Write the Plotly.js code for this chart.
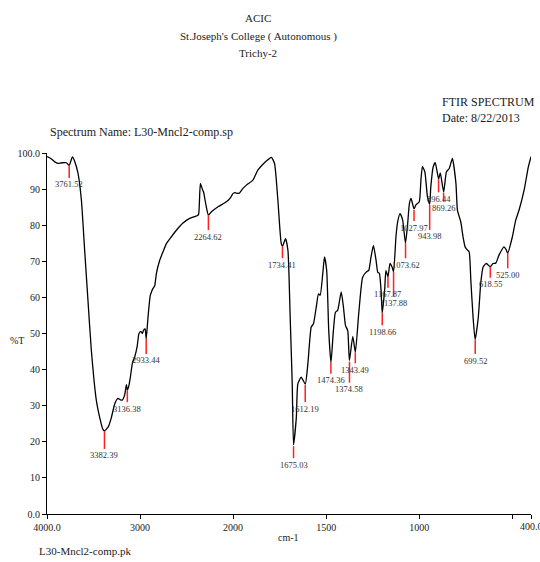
<!DOCTYPE html>
<html>
<head>
<meta charset="utf-8">
<script src="https://cdn.plot.ly/plotly-3.0.1.min.js"></script>
<style>
  html, body { margin: 0; padding: 0; background: #fff; }
  #chart { width: 540px; height: 562px; }
</style>
</head>
<body>
<div id="chart"></div>
<script>
// ---------- data ----------
// wavenumber (cm-1) and %T, high-wavenumber segment (4000 -> 2000)
const wnHigh = [4000, 3960, 3920, 3882, 3840, 3791, 3762, 3727, 3700, 3667, 3630, 3595, 3559, 3523, 3469, 3433, 3400, 3382, 3340, 3308, 3272, 3237, 3210, 3189, 3165, 3146, 3136, 3120, 3103, 3080, 3057, 3030, 3011, 2990, 2975, 2960, 2945, 2933, 2914, 2890, 2877, 2860, 2842, 2824, 2788, 2753, 2716, 2662, 2609, 2538, 2466, 2400, 2387, 2370, 2351, 2330, 2315, 2290, 2265, 2232, 2161, 2071, 2030, 2000];
const tHigh  = [99.0, 98.5, 97.6, 97.1, 97.3, 97.3, 96.5, 98.9, 97.5, 94.4, 86.9, 73.0, 59.0, 45.3, 31.4, 26.7, 23.5, 23.0, 24.2, 26.7, 30.5, 32.0, 31.6, 31.6, 33.0, 35.8, 34.3, 35.5, 38.0, 42.0, 43.5, 46.5, 50.0, 50.6, 50.0, 51.0, 51.3, 48.5, 54.5, 60.5, 61.5, 62.5, 63.2, 66.6, 70.3, 72.6, 74.9, 76.8, 78.6, 80.6, 81.9, 82.5, 82.6, 83.0, 91.6, 90.0, 89.0, 85.5, 82.8, 83.7, 85.1, 86.5, 87.5, 88.8];
// low-wavenumber segment (2000 -> 400)
const wnLow = [2000, 1991, 1968, 1950, 1928, 1893, 1866, 1839, 1813, 1794, 1777, 1759, 1741, 1734, 1718, 1705, 1693, 1682, 1675, 1660, 1652, 1634, 1612, 1598, 1580, 1568, 1553, 1541, 1532, 1518, 1509, 1497, 1486, 1474, 1461, 1450, 1438, 1419, 1407, 1396, 1384, 1375, 1357, 1343, 1325, 1304, 1285, 1271, 1259, 1246, 1232, 1223, 1214, 1205, 1199, 1186, 1179, 1168, 1157, 1146, 1138, 1125, 1116, 1103, 1089, 1074, 1062, 1053, 1044, 1028, 1018, 1000, 991, 983, 970, 956, 944, 938, 925, 914, 896, 887, 869, 854, 839, 822, 803, 795, 777, 765, 754, 741, 732, 723, 711, 700, 683, 670, 657, 640, 629, 619, 604, 589, 572, 545, 533, 525, 500, 482, 464, 437, 414, 400];
const tLow  = [88.8, 89.0, 88.8, 90.0, 91.1, 92.5, 95.3, 96.9, 98.1, 98.8, 97.1, 86.9, 74.9, 74.2, 76.3, 73.0, 54.5, 36.0, 19.2, 26.7, 36.0, 37.9, 36.0, 41.6, 51.8, 52.7, 57.3, 61.0, 60.6, 66.6, 71.2, 67.5, 50.8, 41.9, 50.8, 55.9, 56.4, 61.5, 57.3, 52.2, 50.8, 42.5, 49.2, 44.8, 55.5, 65.6, 67.0, 67.5, 71.2, 74.4, 70.3, 67.0, 66.6, 61.9, 55.6, 61.9, 67.5, 65.7, 69.4, 68.4, 67.1, 76.8, 80.9, 83.2, 81.4, 75.0, 80.5, 86.0, 87.4, 84.5, 85.6, 86.5, 92.5, 96.2, 94.8, 87.9, 85.8, 90.6, 96.2, 97.3, 92.8, 94.5, 89.2, 94.8, 95.7, 98.5, 91.6, 84.2, 80.9, 76.8, 74.0, 73.1, 72.6, 64.7, 54.5, 48.3, 54.5, 63.8, 68.4, 69.4, 68.9, 68.5, 69.4, 69.5, 71.7, 74.0, 73.2, 72.2, 76.8, 81.4, 84.2, 89.7, 96.2, 99.0];

// picked peaks
const peakLabels = ["3761.52", "3382.39", "3136.38", "2933.44", "2264.62", "1734.41", "1675.03", "1612.19", "1474.36", "1374.58", "1343.49", "1198.66", "1167.87", "1137.88", "1073.62", "1027.97", "943.98", "896.44", "869.26", "699.52", "618.55", "525.00"];
const peakWn = [3761.52, 3382.39, 3136.38, 2933.44, 2264.62, 1734.41, 1675.03, 1612.19, 1474.36, 1374.58, 1343.49, 1198.66, 1167.87, 1137.88, 1073.62, 1027.97, 943.98, 896.44, 869.26, 699.52, 618.55, 525.00];
const peakT  = [96.7, 23.0, 34.3, 48.5, 82.8, 74.2, 18.8, 35.7, 41.9, 42.2, 44.8, 55.6, 65.7, 67.1, 75.0, 84.2, 85.6, 92.7, 89.0, 48.2, 68.5, 72.2];

// axis ticks
const yTickVals = [0, 10, 20, 30, 40, 50, 60, 70, 80, 90, 100];
const yTickText = ["0.0", "10", "20", "30", "40", "50", "60", "70", "80", "90", "100.0"];
const xHighTickVals = [4000, 3000];
const xHighTickText = ["4000.0", "3000"];
const xLowTickVals = [2000, 1500, 1000, 500, 400];
const xLowTickText = ["2000", "1500", "1000", "", ""];
const xEndLabel = "400.0";

// ---------- layout helpers (positions, not data) ----------
const W = 540, H = 562;
const M = { l: 47, r: 9, t: 153, b: 48 };
const plotW = W - M.l - M.r, plotH = H - M.t - M.b;
const split = 186 / plotW;               // 4000-2000 occupies the left part (scale change at 2000)
const pxPerT = plotH / 100;
// red marker line length for each peak label (px), label sits just below
const markLen = [13, 18, 12, 15, 15, 12, 12, 17, 11, 21, 11, 12, 11, 25, 15, 11, 25, 13, 9, 14, 11, 15];

const serif = '"Liberation Serif", "Times New Roman", Times, serif';
const textCol = '#222';

function px2paperX(px) { return (px - M.l) / plotW; }
function px2paperY(py) { return (H - M.b - py) / plotH; }

const traces = [
  { x: wnHigh, y: tHigh, xaxis: 'x', yaxis: 'y', type: 'scatter', mode: 'lines',
    line: { color: '#000', width: 1.3, shape: 'spline', smoothing: 0.5 }, hoverinfo: 'skip' },
  { x: wnLow, y: tLow, xaxis: 'x2', yaxis: 'y', type: 'scatter', mode: 'lines',
    line: { color: '#000', width: 1.3, shape: 'spline', smoothing: 0.5 }, hoverinfo: 'skip' }
];

const shapes = [];
const annotations = [];
peakWn.forEach((wn, i) => {
  const ax = wn >= 2000 ? 'x' : 'x2';
  const lenT = markLen[i] / pxPerT;
  const y1 = peakT[i] - lenT;
  shapes.push({ type: 'line', xref: ax, yref: 'y', x0: wn, x1: wn, y0: peakT[i], y1: y1,
    line: { color: '#ff2020', width: 1.5 } });
  annotations.push({ xref: ax, yref: 'y', x: wn, y: y1 - 6.5 / pxPerT, text: peakLabels[i],
    showarrow: false, xanchor: 'center', yanchor: 'middle',
    font: { family: serif, size: 8.5, color: '#333' } });
});

function txt(text, px, py, anchor, size) {
  annotations.push({ xref: 'paper', yref: 'paper', x: px2paperX(px), y: px2paperY(py), text: text,
    showarrow: false, xanchor: anchor, yanchor: 'middle',
    font: { family: serif, size: size, color: textCol } });
}
txt('ACIC', 258, 18, 'center', 11);
txt("St.Joseph's College ( Autonomous )", 258, 36, 'center', 11);
txt('Trichy-2', 258, 53, 'center', 11);
txt('FTIR SPECTRUM', 440, 102, 'left', 12);
txt('Date: 8/22/2013', 440, 118, 'left', 12);
txt('Spectrum Name: L30-Mncl2-comp.sp', 48, 132, 'left', 12);
txt('%T', 8, 340, 'left', 10);
txt('cm-1', 288, 537, 'center', 10);
txt('L30-Mncl2-comp.pk', 37, 551, 'left', 11);
// last x tick label (runs past the page edge, as in the reference)
annotations.push({ xref: 'x2', yref: 'paper', x: 400, y: px2paperY(526), text: xEndLabel,
  showarrow: false, xanchor: 'center', yanchor: 'middle',
  font: { family: serif, size: 10, color: textCol } });

const axisCommon = {
  showline: true, linecolor: '#000', linewidth: 1, ticks: 'outside', ticklen: 4, tickwidth: 1,
  tickcolor: '#000', showgrid: false, zeroline: false, tickmode: 'array',
  tickfont: { family: serif, size: 10, color: textCol }, fixedrange: true
};

const layout = {
  width: W, height: H, margin: M, showlegend: false,
  paper_bgcolor: '#fff', plot_bgcolor: '#fff',
  xaxis: Object.assign({}, axisCommon, { domain: [0, split], range: [4000, 2000], anchor: 'y',
    tickvals: xHighTickVals, ticktext: xHighTickText }),
  xaxis2: Object.assign({}, axisCommon, { domain: [split, 1], range: [2000, 400], anchor: 'y',
    tickvals: xLowTickVals, ticktext: xLowTickText }),
  yaxis: Object.assign({}, axisCommon, { range: [0, 100], anchor: 'x',
    tickvals: yTickVals, ticktext: yTickText }),
  shapes: shapes, annotations: annotations
};

Plotly.newPlot('chart', traces, layout, { displayModeBar: false, staticPlot: true });
</script>
</body>
</html>
